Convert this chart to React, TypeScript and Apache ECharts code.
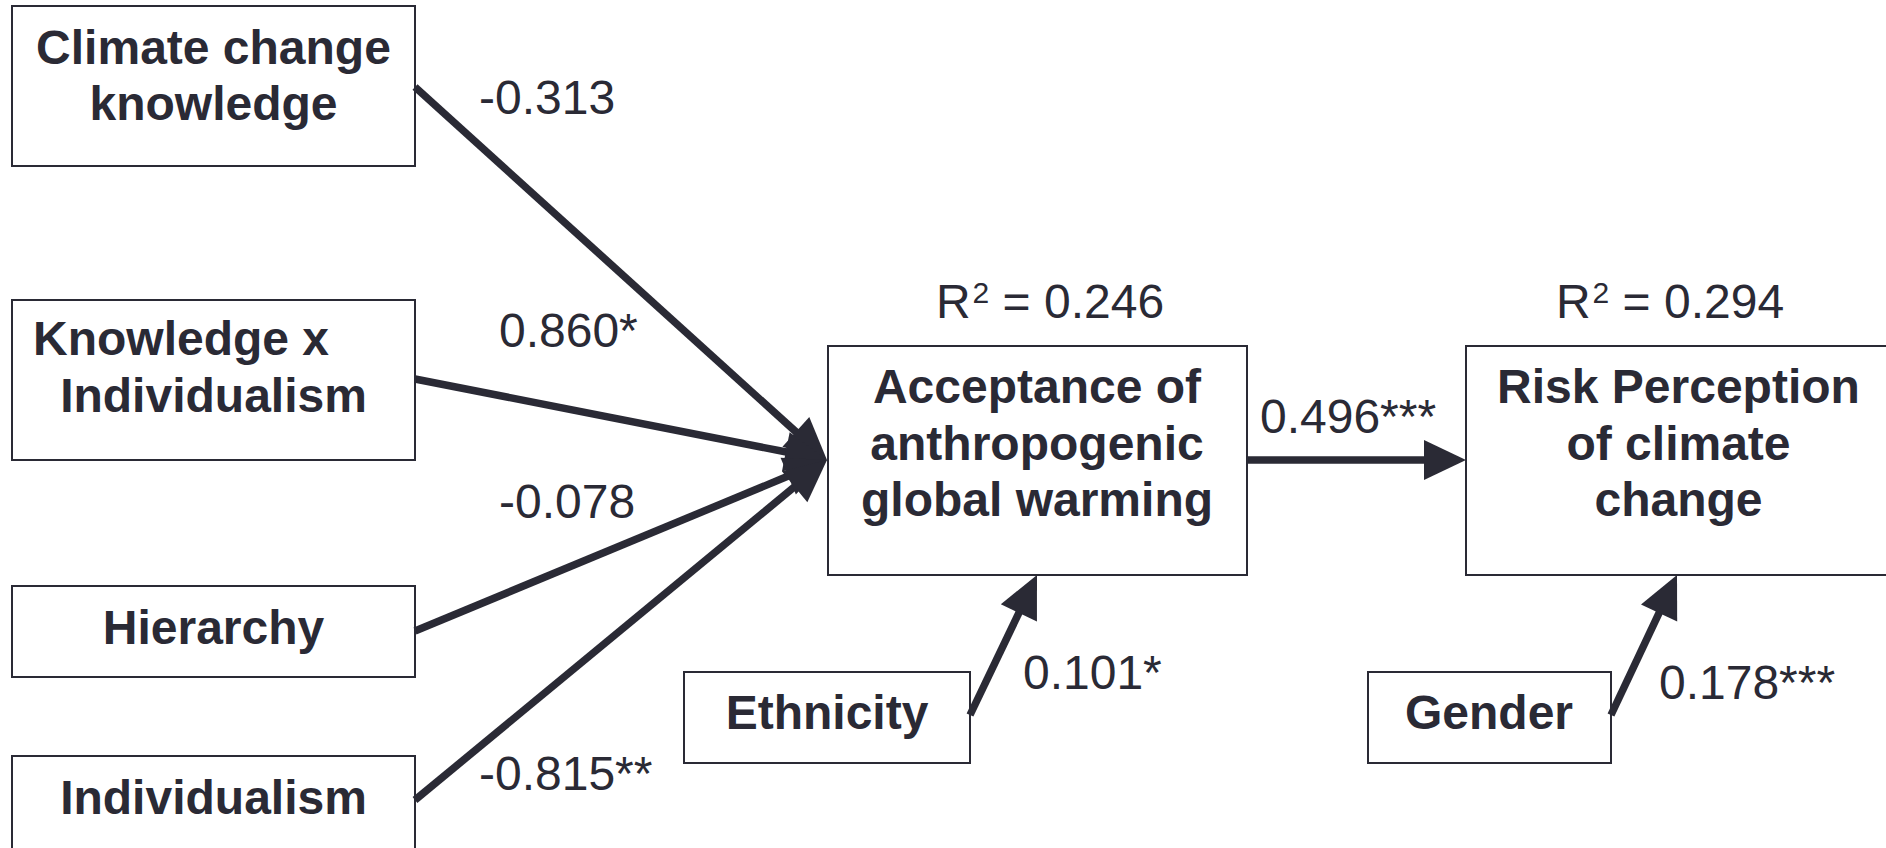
import React, { useEffect, useRef } from "react";
import * as echarts from "echarts";

// ---- diagram content ----
const nodeNames = [
  "Climate change knowledge",
  "Knowledge x Individualism",
  "Hierarchy",
  "Individualism",
  "Acceptance of anthropogenic global warming",
  "Risk Perception of climate change",
  "Ethnicity",
  "Gender",
];
const nodeLines = [
  ["Climate change", "knowledge"],
  ["Knowledge x", "Individualism"],
  ["Hierarchy"],
  ["Individualism"],
  ["Acceptance of", "anthropogenic", "global warming"],
  ["Risk Perception", "of climate", "change"],
  ["Ethnicity"],
  ["Gender"],
];
const pathFrom = [0, 1, 2, 3, 4, 6, 7];
const pathTo = [4, 4, 4, 4, 5, 4, 5];
const pathCoefficients = ["-0.313", "0.860*", "-0.078", "-0.815**", "0.496***", "0.101*", "0.178***"];
const rSquaredNodes = [4, 5];
const rSquaredValues = ["0.246", "0.294"];

// ---- layout (pixels) ----
const boxes = [
  { x: 12, y: 6, w: 403, h: 160 },
  { x: 12, y: 300, w: 403, h: 160 },
  { x: 12, y: 586, w: 403, h: 91 },
  { x: 12, y: 756, w: 403, h: 110 },
  { x: 828, y: 346, w: 419, h: 229 },
  { x: 1466, y: 346, w: 430, h: 229 },
  { x: 684, y: 672, w: 286, h: 91 },
  { x: 1368, y: 672, w: 243, h: 91 },
];
const textCX = [213.5, 213.5, 213.5, 213.5, 1037, 1678.5, 827, 1489];
const textLineY = [
  [47, 103.5],
  [338.5, 395],
  [627],
  [797],
  [386, 443, 499],
  [386, 443, 499],
  [712],
  [712],
];
const edgeStart = [
  [415, 87],
  [415, 379],
  [415, 631],
  [415, 800],
  [1247, 460],
  [970, 715],
  [1611, 715],
];
const edgeEnd = [
  [827, 460],
  [827, 460],
  [827, 460],
  [827, 460],
  [1466, 460],
  [1037, 575],
  [1677, 575],
];
const labelPos = [
  [479, 97],
  [499, 330],
  [499, 501],
  [479, 773],
  [1260, 416],
  [1023, 672],
  [1659, 682],
];
const rSquaredPos = [
  [1050, 301],
  [1670, 301],
];

const INK = "#2a2a35";
const FONT = '"Liberation Sans", Arial, Helvetica, sans-serif';
const HEAD_LEN = 42;
const HEAD_HALF = 20;

export default function App() {
  const ref = useRef<HTMLDivElement>(null);

  useEffect(() => {
    if (!ref.current) return;
    const chart = echarts.init(ref.current, undefined, { renderer: "svg" });
    const elements: any[] = [];

    // boxes
    boxes.forEach((b, i) => {
      elements.push({
        type: "rect",
        name: nodeNames[i],
        shape: { x: b.x, y: b.y, width: b.w, height: b.h },
        style: { fill: "#ffffff", stroke: INK, lineWidth: 2 },
        z: 1,
      });
    });

    // edges
    pathFrom.forEach((f, i) => {
      const [x1, y1] = edgeStart[i];
      const [x2, y2] = edgeEnd[i];
      const dx = x2 - x1;
      const dy = y2 - y1;
      const len = Math.sqrt(dx * dx + dy * dy);
      const ux = dx / len;
      const uy = dy / len;
      const bx = x2 - HEAD_LEN * ux;
      const by = y2 - HEAD_LEN * uy;
      const nx = -uy;
      const ny = ux;
      elements.push({
        type: "line",
        name: `${nodeNames[f]} -> ${nodeNames[pathTo[i]]}`,
        shape: { x1, y1, x2: bx + ux * 2, y2: by + uy * 2 },
        style: { stroke: INK, lineWidth: 7.5, lineCap: "butt" },
        z: 2,
      });
      elements.push({
        type: "polygon",
        shape: {
          points: [
            [x2, y2],
            [bx + HEAD_HALF * nx, by + HEAD_HALF * ny],
            [bx - HEAD_HALF * nx, by - HEAD_HALF * ny],
          ],
        },
        style: { fill: INK },
        z: 3,
      });
      elements.push({
        type: "text",
        x: labelPos[i][0],
        y: labelPos[i][1],
        style: {
          text: pathCoefficients[i],
          fill: INK,
          font: `48px ${FONT}`,
          textAlign: "left",
          textVerticalAlign: "middle",
        },
        z: 4,
      });
    });

    // box labels
    nodeLines.forEach((lines, i) => {
      lines.forEach((t, j) => {
        const leftAligned = i === 1 && j === 0;
        elements.push({
          type: "text",
          x: leftAligned ? 33 : textCX[i],
          y: textLineY[i][j],
          style: {
            text: t,
            fill: INK,
            font: `bold 48px ${FONT}`,
            textAlign: leftAligned ? "left" : "center",
            textVerticalAlign: "middle",
          },
          z: 4,
        });
      });
    });

    // R squared
    rSquaredNodes.forEach((n, i) => {
      elements.push({
        type: "text",
        name: `R2 ${nodeNames[n]}`,
        x: rSquaredPos[i][0],
        y: rSquaredPos[i][1],
        style: {
          text: `{m|R}{s|2}{m| = ${rSquaredValues[i]}}`,
          fill: INK,
          font: `48px ${FONT}`,
          textAlign: "center",
          textVerticalAlign: "middle",
          rich: {
            m: {
              fontSize: 48,
              fontFamily: FONT,
              lineHeight: 48,
              fill: INK,
              verticalAlign: "middle",
            },
            s: {
              fontSize: 30,
              fontFamily: FONT,
              lineHeight: 30,
              fill: INK,
              verticalAlign: "top",
              padding: [0, 0, 0, 2],
            },
          },
        },
        z: 4,
      });
    });

    chart.setOption({
      animation: false,
      backgroundColor: "#ffffff",
      graphic: { elements },
    });

    return () => chart.dispose();
  }, []);

  return (
    <div
      ref={ref}
      style={{ position: "absolute", left: 0, top: 0, width: 1886, height: 848 }}
    />
  );
}
